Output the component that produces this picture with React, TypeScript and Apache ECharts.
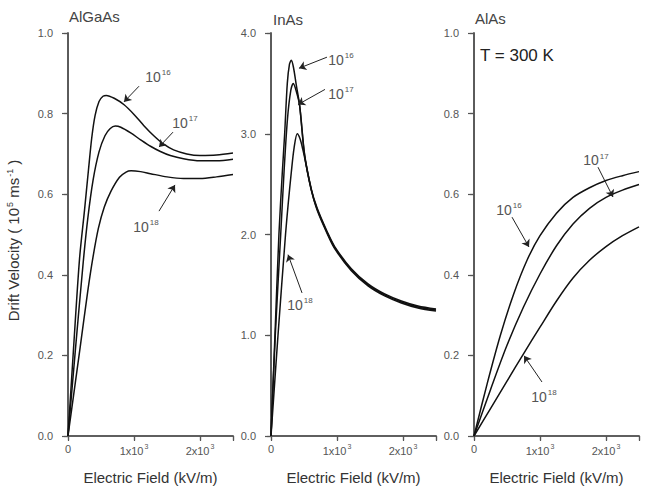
import React, { useEffect, useRef } from "react";
import * as echarts from "echarts";

// Drift velocity (10^5 m/s) versus electric field (kV/m) at three doping levels (cm^-3)
const panelNames = ["AlGaAs", "InAs", "AlAs"];
const dopingExponents = ["16", "17", "18"];
const fieldMax = 2500;
const fieldStep = 1000;
const velocityMax = [1.0, 4.0, 1.0];
const velocityStep = [0.2, 1.0, 0.2];

const algaas16 = [[0, 0], [85, 0.22], [175, 0.44], [250, 0.56], [310, 0.66], [360, 0.74], [410, 0.795], [470, 0.83], [530, 0.843], [580, 0.845], [700, 0.838], [850, 0.822], [1000, 0.798], [1150, 0.77], [1300, 0.745], [1450, 0.724], [1600, 0.71], [1800, 0.7], [2000, 0.696], [2250, 0.697], [2500, 0.702]];
const algaas17 = [[0, 0], [110, 0.21], [230, 0.43], [300, 0.54], [380, 0.635], [470, 0.705], [560, 0.745], [640, 0.763], [717, 0.769], [800, 0.766], [950, 0.752], [1100, 0.735], [1250, 0.719], [1400, 0.706], [1550, 0.696], [1750, 0.688], [2000, 0.683], [2250, 0.683], [2500, 0.687]];
const algaas18 = [[0, 0], [180, 0.215], [300, 0.36], [380, 0.445], [460, 0.515], [550, 0.568], [650, 0.607], [780, 0.642], [880, 0.655], [955, 0.658], [1100, 0.656], [1250, 0.651], [1500, 0.643], [1750, 0.639], [2000, 0.639], [2250, 0.643], [2500, 0.649]];

const inas16 = [[0, 0], [60, 1.0], [120, 2.0], [170, 2.6], [207, 3.0], [247, 3.5], [280, 3.69], [308, 3.73], [340, 3.66], [384, 3.48], [434, 3.28], [510, 2.78], [611, 2.44], [700, 2.25], [850, 2.02], [965, 1.87], [1217, 1.65], [1470, 1.5], [1722, 1.4], [1975, 1.33], [2227, 1.28], [2500, 1.25]];
const inas17 = [[0, 0], [65, 1.0], [147, 2.0], [200, 2.65], [250, 3.15], [300, 3.43], [338, 3.5], [384, 3.42], [434, 3.28], [510, 2.79], [611, 2.45], [700, 2.26], [850, 2.03], [965, 1.88], [1217, 1.66], [1470, 1.51], [1722, 1.41], [1975, 1.34], [2227, 1.29], [2500, 1.26]];
const inas18 = [[0, 0], [106, 1.0], [220, 2.0], [260, 2.3], [308, 2.62], [350, 2.86], [398, 3.0], [440, 2.95], [480, 2.85], [530, 2.7], [611, 2.44], [700, 2.24], [850, 2.01], [965, 1.86], [1217, 1.64], [1470, 1.49], [1722, 1.39], [1975, 1.32], [2227, 1.27], [2500, 1.24]];

const alas16 = [[0, 0], [200, 0.13], [400, 0.25], [600, 0.352], [800, 0.435], [1000, 0.497], [1250, 0.553], [1500, 0.592], [1750, 0.616], [2000, 0.634], [2250, 0.646], [2500, 0.656]];
const alas17 = [[0, 0], [250, 0.115], [500, 0.225], [750, 0.32], [1000, 0.402], [1250, 0.472], [1500, 0.526], [1750, 0.565], [2000, 0.592], [2250, 0.61], [2500, 0.624]];
const alas18 = [[0, 0], [250, 0.068], [500, 0.136], [750, 0.204], [1000, 0.27], [1250, 0.335], [1500, 0.392], [1750, 0.436], [2000, 0.47], [2250, 0.497], [2500, 0.519]];

const panelCurves = [
  [algaas16, algaas17, algaas18],
  [inas16, inas17, inas18],
  [alas16, alas17, alas18],
];

// Doping-level callouts: label centre, arrow start and arrow tip, in data units
const panelCallouts = [
  [
    { label: [1364, 0.893], from: [1076, 0.868], to: [848, 0.829] },
    { label: [1773, 0.779], from: [1591, 0.754], to: [1379, 0.717] },
    { label: [1182, 0.521], from: [1379, 0.558], to: [1621, 0.623] },
  ],
  [
    { label: [1061, 3.74], from: [848, 3.76], to: [424, 3.65] },
    { label: [1061, 3.4], from: [818, 3.44], to: [409, 3.29] },
    { label: [439, 1.31], from: [470, 1.42], to: [258, 1.8] },
  ],
  [
    { label: [530, 0.563], from: [576, 0.543], to: [833, 0.469] },
    { label: [1848, 0.685], from: [1879, 0.667], to: [2106, 0.593] },
    { label: [1061, 0.099], from: [1030, 0.134], to: [758, 0.199] },
  ],
];

const FONT = "Liberation Sans, Arial, sans-serif";
const FRAME = "#555";
const INK = "#111";

const supRich = {
  n: { fontSize: 14, color: "#555", fontFamily: FONT, verticalAlign: "bottom" },
  s: { fontSize: 8, color: "#555", fontFamily: FONT, verticalAlign: "bottom", padding: [0, 0, 7, 1] },
};

export default function App() {
  const ref = useRef<HTMLDivElement>(null);

  useEffect(() => {
    document.body.style.margin = "0";
    if (!ref.current) return;
    const chart = echarts.init(ref.current, null, { renderer: "svg" });

    const lefts = [68, 271, 474];
    const grid = lefts.map((left) => ({ left, top: 33, width: 165, height: 403, containLabel: false }));

    const xAxis: any[] = [];
    const yAxis: any[] = [];
    lefts.forEach((_, i) => {
      xAxis.push({
        gridIndex: i,
        type: "value",
        position: "bottom",
        min: 0,
        max: fieldMax,
        interval: fieldStep,
        axisLine: { lineStyle: { color: FRAME, width: 1.6 } },
        axisTick: { length: 5, lineStyle: { color: FRAME, width: 1.2 } },
        splitLine: { show: false },
        axisLabel: {
          margin: 7,
          fontSize: 11,
          color: "#555",
          fontFamily: FONT,
          formatter: (v: number) => (v === 0 ? "0" : v % fieldStep === 0 ? `{a|${v / fieldStep}x10}{s|3}` : ""),
          rich: {
            a: { fontSize: 11, color: "#555", fontFamily: FONT, verticalAlign: "bottom" },
            s: { fontSize: 7, color: "#555", fontFamily: FONT, verticalAlign: "bottom", padding: [0, 0, 6, 1] },
          },
        },
        name: "Electric Field (kV/m)",
        nameLocation: "middle",
        nameGap: 34,
        nameTextStyle: { fontSize: 15, color: "#333", fontFamily: FONT },
      });
      xAxis.push({
        gridIndex: i,
        type: "value",
        position: "top",
        min: 0,
        max: fieldMax,
        interval: fieldStep,
        axisLine: { lineStyle: { color: FRAME, width: 1.6 } },
        axisTick: { inside: true, length: 4, lineStyle: { color: FRAME, width: 1.2 } },
        axisLabel: { show: false },
        splitLine: { show: false },
      });
      yAxis.push({
        gridIndex: i,
        type: "value",
        position: "left",
        min: 0,
        max: velocityMax[i],
        interval: velocityStep[i],
        axisLine: { show: true, lineStyle: { color: FRAME, width: 1.6 } },
        axisTick: { show: true, length: 6, lineStyle: { color: FRAME, width: 1.2 } },
        splitLine: { show: false },
        axisLabel: {
          margin: 15,
          fontSize: 11,
          color: "#555",
          fontFamily: FONT,
          formatter: (v: number) => v.toFixed(1),
        },
        ...(i === 0
          ? {
              name: "{n|Drift Velocity ( 10}{s|5}{n| ms}{s|-1}{n| )}",
              nameLocation: "middle",
              nameGap: 47,
              nameTextStyle: {
                fontFamily: FONT,
                padding: [0, 12, 0, 0],
                rich: {
                  n: { fontSize: 15, color: "#333", fontFamily: FONT, verticalAlign: "bottom" },
                  s: { fontSize: 9, color: "#333", fontFamily: FONT, verticalAlign: "bottom", padding: [0, 0, 7, 1] },
                },
              },
            }
          : {}),
      });
      yAxis.push({
        gridIndex: i,
        type: "value",
        position: "right",
        min: 0,
        max: velocityMax[i],
        interval: velocityStep[i],
        axisLine: { show: true, lineStyle: { color: FRAME, width: 1.6 } },
        axisTick: { show: true, inside: true, length: 4, lineStyle: { color: FRAME, width: 1.2 } },
        axisLabel: { show: false },
        splitLine: { show: false },
      });
    });

    const series: any[] = [];
    panelCurves.forEach((curves, p) => {
      curves.forEach((data, k) => {
        const note = panelCallouts[p][k];
        series.push({
          type: "line",
          xAxisIndex: p * 2,
          yAxisIndex: p * 2,
          data,
          smooth: 0.3,
          showSymbol: false,
          silent: true,
          lineStyle: { color: INK, width: 1.5 },
          markLine: {
            silent: true,
            symbol: ["none", "arrow"],
            symbolSize: 7,
            label: { show: false },
            lineStyle: { color: "#222", width: 1, type: "solid" },
            data: [[{ coord: note.from }, { coord: note.to }]],
          },
          markPoint: {
            silent: true,
            symbol: "circle",
            symbolSize: 0,
            label: {
              show: true,
              position: "inside",
              formatter: `{n|10}{s|${dopingExponents[k]}}`,
              rich: supRich,
            },
            data: [{ coord: note.label }],
          },
        });
      });
    });

    const titleOffsets = [
      { left: 69, top: 9 },
      { left: 273, top: 12 },
      { left: 475, top: 11 },
    ];
    const title: any[] = panelNames.map((name, i) => ({
      text: name,
      left: titleOffsets[i].left,
      top: titleOffsets[i].top,
      padding: 0,
      textStyle: { fontSize: 15, fontWeight: "normal", color: "#444", fontFamily: FONT },
    }));
    title.push({
      text: "T = 300 K",
      left: 480,
      top: 47,
      padding: 0,
      textStyle: { fontSize: 17, fontWeight: "normal", color: "#222", fontFamily: FONT },
    });

    chart.setOption({
      animation: false,
      backgroundColor: "#fff",
      title,
      grid,
      xAxis,
      yAxis,
      series,
    });

    return () => chart.dispose();
  }, []);

  return <div ref={ref} style={{ width: 646, height: 492 }} />;
}
